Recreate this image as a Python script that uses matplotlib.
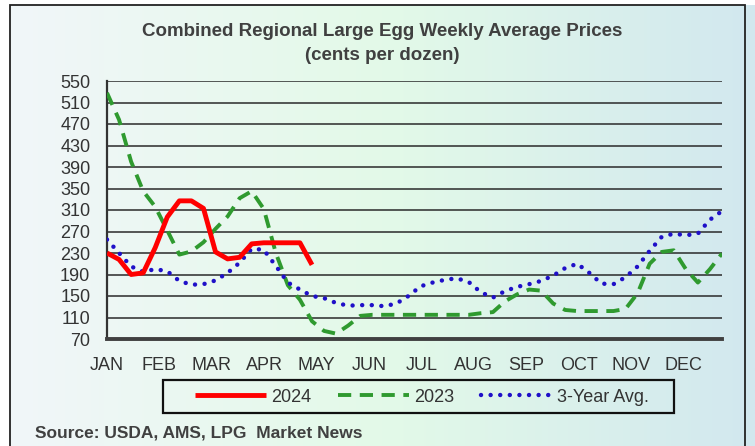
import numpy as np
import matplotlib.pyplot as plt
from matplotlib.patches import Rectangle
from matplotlib.colors import LinearSegmentedColormap

plt.rcParams['font.family'] = ['Liberation Sans', 'DejaVu Sans']

#weekly prices, cents per dozen
months = ["JAN", "FEB", "MAR", "APR", "MAY", "JUN", "JUL", "AUG", "SEP", "OCT", "NOV", "DEC"]
yTicks = [70, 110, 150, 190, 230, 270, 310, 350, 390, 430, 470, 510, 550]

prices2024 = [230, 218, 190, 193, 240, 297, 327, 327, 313, 232, 219, 222, 247, 249, 249, 249, 249, 208]

prices2023 = [528, 478, 400, 345, 316, 272, 227, 233, 250, 275, 298, 332, 345, 312, 230, 170,
              143, 103, 85, 80, 95, 113, 115, 115, 115, 115, 115, 115, 115, 115, 115, 118,
              120, 140, 153, 162, 160, 136, 124, 122, 122, 122, 122, 126, 155, 210, 232, 235,
              200, 175, 200, 229]

avg3yr = [255, 230, 205, 195, 200, 196, 178, 171, 172, 179, 193, 212, 238, 236, 206, 175,
          162, 150, 146, 137, 132, 133, 133, 131, 136, 150, 168, 175, 180, 183, 176, 157,
          147, 159, 167, 172, 178, 188, 202, 210, 193, 173, 172, 185, 205, 234, 260, 266,
          263, 266, 292, 308]

W, H = 755, 446
fig = plt.figure(figsize=(W/100, H/100), dpi=100)
fig.patch.set_facecolor("white")

#gradient background inside the outer frame
bgAx = fig.add_axes([10/W, 0, 1 - 10/W, 1 - 5/H])
bgAx.axis("off")
cmap = LinearSegmentedColormap.from_list("bg", [(0, "#f1f6f9"), (0.5, "#e3fae8"), (1, "#d2e8ef")])
bgAx.imshow(np.linspace(0, 1, 256).reshape(1, -1), cmap=cmap, aspect="auto", extent=[0, 1, 0, 1])
fig.patches.append(Rectangle((10/W, -0.02), 735/W, 1 - 5/H + 0.02, transform=fig.transFigure,
                             fill=False, lw=1.3, ec="#222222", zorder=10))

#main plot
ax = fig.add_axes([107/W, 1 - 339/H, 615/W, 258/H])
ax.set_facecolor("none")
weeks = np.arange(52)

ax.plot(weeks[:len(prices2024)], prices2024, color="#ff0000", lw=3.5,
        solid_joinstyle="round", solid_capstyle="butt", label="2024", zorder=5)
ax.plot(weeks[:len(prices2023)], prices2023, color="#2f9a2f", lw=2.8,
        linestyle=(0, (3.4, 2.2)), dash_capstyle="butt", label="2023", zorder=4)
ax.plot(weeks[:len(avg3yr)], avg3yr, color="#1f10c8", lw=3.2,
        linestyle=(0, (0.01, 2.15)), dash_capstyle="round", label="3-Year Avg.", zorder=4)

ax.set_xlim(0, 51)
ax.set_ylim(70, 550)
ax.set_yticks(yTicks)
ax.set_xticks(np.arange(12) * 52.14 / 12)
ax.set_xticklabels(months)
ax.tick_params(axis="both", length=0, labelsize=13, labelcolor="#333333")
ax.tick_params(axis="x", pad=13)
ax.tick_params(axis="y", pad=12)
ax.yaxis.grid(True, color="#2a2a2a", lw=1.1)
ax.set_axisbelow(True)
ax.spines["right"].set_visible(False)
ax.spines["top"].set_visible(False)
ax.spines["left"].set_color("#333333")
ax.spines["left"].set_linewidth(1.6)
ax.spines["bottom"].set_color("#404040")
ax.spines["bottom"].set_linewidth(2.8)

#titles
fig.text(382/W, 1 - 31/H, "Combined Regional Large Egg Weekly Average Prices",
         ha="center", va="center", fontsize=13.5, fontweight="bold", color="#404040")
fig.text(382/W, 1 - 55/H, "(cents per dozen)",
         ha="center", va="center", fontsize=13.5, fontweight="bold", color="#404040")
fig.text(35/W, 1 - 433/H, "Source: USDA, AMS, LPG  Market News",
         ha="left", va="center", fontsize=12.5, fontweight="bold", color="#404040")

#legend with its own box
fig.legend(loc="center", bbox_to_anchor=(422/W, 1 - 397/H), ncol=3, frameon=False,
           fontsize=13, handlelength=3.9, handletextpad=0.3, columnspacing=1.5,
           labelcolor="#333333")
fig.patches.append(Rectangle((163/W, 1 - 413/H), 511/W, 33/H, transform=fig.transFigure,
                             fill=False, lw=1.6, ec="#111111", zorder=10))

fig.savefig("out.png", dpi=100)
